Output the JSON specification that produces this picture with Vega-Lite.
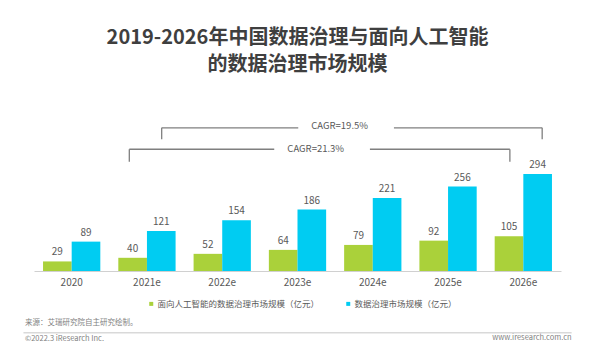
{
  "$schema": "https://vega.github.io/schema/vega-lite/v6.json",
  "width": 527,
  "height": 148.5,
  "autosize": {"type": "none"},
  "padding": {"left": 34, "top": 122.5, "right": 31, "bottom": 87},
  "background": "#ffffff",
  "config": {
    "view": {"stroke": null},
    "font": "Noto Sans CJK SC"
  },
  "title": {
    "text": ["2019-2026年中国数据治理与面向人工智能", "的数据治理市场规模"],
    "fontSize": 20,
    "fontWeight": "bold",
    "color": "#3f3f3f",
    "lineHeight": 27,
    "anchor": "middle",
    "frame": "group",
    "offset": 46,
    "font": "Noto Sans CJK SC"
  },
  "datasets": {
    "bars": [
      {"year": "2020", "series": "面向人工智能的数据治理市场规模（亿元）", "value": 29},
      {"year": "2020", "series": "数据治理市场规模（亿元）", "value": 89},
      {"year": "2021e", "series": "面向人工智能的数据治理市场规模（亿元）", "value": 40},
      {"year": "2021e", "series": "数据治理市场规模（亿元）", "value": 121},
      {"year": "2022e", "series": "面向人工智能的数据治理市场规模（亿元）", "value": 52},
      {"year": "2022e", "series": "数据治理市场规模（亿元）", "value": 154},
      {"year": "2023e", "series": "面向人工智能的数据治理市场规模（亿元）", "value": 64},
      {"year": "2023e", "series": "数据治理市场规模（亿元）", "value": 186},
      {"year": "2024e", "series": "面向人工智能的数据治理市场规模（亿元）", "value": 79},
      {"year": "2024e", "series": "数据治理市场规模（亿元）", "value": 221},
      {"year": "2025e", "series": "面向人工智能的数据治理市场规模（亿元）", "value": 92},
      {"year": "2025e", "series": "数据治理市场规模（亿元）", "value": 256},
      {"year": "2026e", "series": "面向人工智能的数据治理市场规模（亿元）", "value": 105},
      {"year": "2026e", "series": "数据治理市场规模（亿元）", "value": 294}
    ],
    "brackets": [
      {"px": 1.696, "px2": 3.51, "py": 434, "py2": 434},
      {"px": 4.781, "px2": 6.75, "py": 434, "py2": 434},
      {"px": 1.696, "px2": 1.696, "py": 434, "py2": 399},
      {"px": 6.75, "px2": 6.75, "py": 434, "py2": 399},
      {"px": 1.266, "px2": 3.191, "py": 369, "py2": 369},
      {"px": 4.462, "px2": 6.321, "py": 369, "py2": 369},
      {"px": 1.266, "px2": 1.266, "py": 369, "py2": 331},
      {"px": 6.321, "px2": 6.321, "py": 369, "py2": 331}
    ],
    "cagr": [
      {"label": "CAGR=19.5%", "px": 4.06, "py": 440},
      {"label": "CAGR=21.3%", "px": 3.742, "py": 371}
    ],
    "footLeft": [
      {"label": "来源：艾瑞研究院自主研究绘制。", "px": -0.12, "py": -158},
      {"label": "©2022.3 iResearch Inc.", "px": -0.12, "py": -206}
    ],
    "footRight": [
      {"label": "www.iresearch.com.cn", "px": 7.141, "py": -204}
    ],
    "footLine": [
      {"px": -0.14, "px2": 7.141, "py": -187}
    ]
  },
  "layer": [
    {
      "data": {"name": "bars"},
      "layer": [
        {
          "mark": {"type": "bar"},
          "encoding": {
            "x": {
              "field": "year", "type": "nominal", "sort": null,
              "scale": {"paddingInner": 0.239, "paddingOuter": 0.12},
              "axis": {
                "title": null, "labelAngle": 0, "ticks": false,
                "labelFontSize": 10, "labelColor": "#595959", "labelPadding": 6,
                "domainColor": "#d0d0d0", "domainWidth": 1, "grid": false,
                "labelFont": "Noto Sans CJK SC"
              }
            },
            "xOffset": {
              "field": "series", "type": "nominal",
              "sort": ["面向人工智能的数据治理市场规模（亿元）", "数据治理市场规模（亿元）"]
            },
            "y": {
              "field": "value", "type": "quantitative",
              "scale": {"domain": [0, 450], "nice": false, "zero": true},
              "axis": null
            },
            "color": {
              "field": "series", "type": "nominal",
              "scale": {
                "domain": ["面向人工智能的数据治理市场规模（亿元）", "数据治理市场规模（亿元）"],
                "range": ["#AAD13A", "#00CCF2"]
              },
              "legend": {
                "title": null, "orient": "none", "direction": "horizontal",
                "legendX": 113, "legendY": 177,
                "symbolType": "square", "symbolSize": 16, "symbolStrokeWidth": 0,
                "labelFontSize": 8.5, "labelColor": "#595959", "labelOffset": 2,
                "columnPadding": 24, "labelLimit": 300,
                "labelFont": "Noto Sans CJK SC"
              }
            }
          }
        },
        {
          "mark": {"type": "text", "baseline": "bottom", "dy": -4, "fontSize": 10, "color": "#595959"},
          "encoding": {
            "x": {"field": "year", "type": "nominal", "sort": null},
            "xOffset": {
              "field": "series", "type": "nominal",
              "sort": ["面向人工智能的数据治理市场规模（亿元）", "数据治理市场规模（亿元）"]
            },
            "y": {"field": "value", "type": "quantitative"},
            "text": {"field": "value", "type": "quantitative"}
          }
        }
      ]
    },
    {
      "layer": [
        {
          "data": {"name": "brackets"},
          "mark": {"type": "rule", "color": "#7f7f7f", "strokeWidth": 1.3},
          "encoding": {
            "x": {"field": "px", "type": "quantitative", "scale": {"domain": [0, 7], "nice": false, "zero": false}, "axis": null},
            "x2": {"field": "px2"},
            "y": {"field": "py", "type": "quantitative", "scale": {"domain": [0, 450], "nice": false}, "axis": null},
            "y2": {"field": "py2"}
          }
        },
        {
          "data": {"name": "cagr"},
          "mark": {"type": "text", "fontSize": 9.5, "color": "#595959", "baseline": "middle", "align": "center"},
          "encoding": {
            "x": {"field": "px", "type": "quantitative"},
            "y": {"field": "py", "type": "quantitative"},
            "text": {"field": "label"}
          }
        },
        {
          "data": {"name": "footLeft"},
          "mark": {"type": "text", "fontSize": 7.5, "color": "#7f7f7f", "baseline": "middle", "align": "left"},
          "encoding": {
            "x": {"field": "px", "type": "quantitative"},
            "y": {"field": "py", "type": "quantitative"},
            "text": {"field": "label"}
          }
        },
        {
          "data": {"name": "footRight"},
          "mark": {"type": "text", "fontSize": 7.5, "color": "#7f7f7f", "baseline": "middle", "align": "right"},
          "encoding": {
            "x": {"field": "px", "type": "quantitative"},
            "y": {"field": "py", "type": "quantitative"},
            "text": {"field": "label"}
          }
        },
        {
          "data": {"name": "footLine"},
          "mark": {"type": "rule", "color": "#d9d9d9", "strokeWidth": 1.5},
          "encoding": {
            "x": {"field": "px", "type": "quantitative"},
            "x2": {"field": "px2"},
            "y": {"field": "py", "type": "quantitative"}
          }
        }
      ]
    }
  ],
  "resolve": {"scale": {"x": "independent"}}
}
